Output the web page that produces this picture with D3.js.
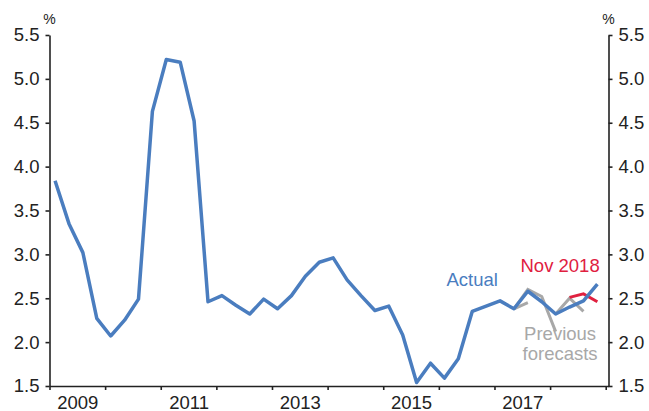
<!DOCTYPE html>
<meta charset="utf-8">
<script src="https://cdn.jsdelivr.net/npm/d3@7"></script>
<style>
body { margin: 0; background: #fff; }
text { font-family: "Liberation Sans", Arial, sans-serif; }
.axis path, .axis line { stroke: #222; stroke-width: 1.6px; }
.axis text { fill: #222; font-size: 18.5px; }
</style>
<body>
<script>

// quarterly series, first quarter 2009:Q1
var startYear = 2009;
var actual = [3.84, 3.35, 3.02, 2.27, 2.07, 2.25, 2.49, 4.63, 5.22, 5.19,
              4.52, 2.46, 2.53, 2.42, 2.32, 2.49, 2.38, 2.53, 2.75, 2.91,
              2.96, 2.71, 2.53, 2.36, 2.41, 2.08, 1.54, 1.76, 1.59, 1.81,
              2.35, 2.41, 2.47, 2.38, 2.58, 2.46, 2.32, 2.40, 2.47, 2.66];

// previous forecasts: [quarter index, value]
var prevForecasts = [
  [[33, 2.38], [34, 2.45]],
  [[33, 2.38], [34, 2.60], [35, 2.52], [36, 2.12]],
  [[36, 2.32], [37, 2.50], [38, 2.35]]
];
var novForecast = [[37, 2.51], [38, 2.55], [39, 2.46]];

var yTicks = [1.5, 2.0, 2.5, 3.0, 3.5, 4.0, 4.5, 5.0, 5.5];
var yearTicks = d3.range(2009, 2020);
var yearLabels = [2009, 2011, 2013, 2015, 2017];

var width = 649, height = 411;
var plotLeft = 49.5, plotRight = 608.5, plotTop = 35, plotBottom = 386;

var svg = d3.select("body").append("svg")
    .attr("width", width)
    .attr("height", height);

var x = d3.scaleLinear().domain([2009, 2019.05]).range([plotLeft, plotRight]);
var y = d3.scaleLinear().domain([1.5, 5.5]).range([plotBottom, plotTop]);

function qTime(i) { return startYear + 0.1 + i * 0.25; }

var line = d3.line()
    .x(function(d) { return x(qTime(d[0])); })
    .y(function(d) { return y(d[1]); });

// axes
svg.append("g").attr("class", "axis")
    .attr("transform", "translate(" + plotLeft + ",0)")
    .call(d3.axisLeft(y).tickValues(yTicks).tickFormat(d3.format(".1f"))
      .tickSize(4).tickSizeOuter(0).tickPadding(6));

svg.append("g").attr("class", "axis")
    .attr("transform", "translate(" + plotRight + ",0)")
    .call(d3.axisRight(y).tickValues(yTicks).tickFormat(d3.format(".1f"))
      .tickSize(4).tickSizeOuter(0).tickPadding(6));

svg.append("g").attr("class", "axis")
    .attr("transform", "translate(0," + plotBottom + ")")
    .call(d3.axisBottom(x).tickValues(yearTicks).tickFormat("")
      .tickSize(4).tickSizeOuter(0));

var xl = svg.append("g").attr("class", "axis")
    .attr("transform", "translate(0," + plotBottom + ")")
    .call(d3.axisBottom(x).tickValues(yearLabels.map(function(d) { return d + 0.5; }))
      .tickFormat(function(d) { return Math.floor(d); })
      .tickSize(0).tickPadding(10));
xl.select(".domain").remove();

// % units
[plotLeft, plotRight].forEach(function(px) {
  svg.append("text")
      .attr("x", px).attr("y", 24)
      .attr("text-anchor", "middle")
      .style("font-size", "14px")
      .style("fill", "#222")
      .text("%");
});

// lines
svg.append("g").selectAll("path")
    .data(prevForecasts)
    .enter().append("path")
    .attr("d", line)
    .style("fill", "none")
    .style("stroke", "#a8a8a8")
    .style("stroke-width", 3);

svg.append("path")
    .datum(novForecast)
    .attr("d", line)
    .style("fill", "none")
    .style("stroke", "#e0203f")
    .style("stroke-width", 3);

svg.append("path")
    .datum(actual.map(function(v, i) { return [i, v]; }))
    .attr("d", line)
    .style("fill", "none")
    .style("stroke", "#4a7dbf")
    .style("stroke-width", 3.5)
    .style("stroke-linejoin", "round");

// labels
var labels = [
  {t: "Actual", yr: 2016.6, v: 2.64, c: "#4a7dbf"},
  {t: "Nov 2018", yr: 2018.18, v: 2.80, c: "#e0203f"},
  {t: "Previous", yr: 2018.18, v: 2.02, c: "#a8a8a8"},
  {t: "forecasts", yr: 2018.18, v: 1.80, c: "#a8a8a8"}
];
svg.append("g").selectAll("text")
    .data(labels)
    .enter().append("text")
    .attr("x", function(d) { return x(d.yr); })
    .attr("y", function(d) { return y(d.v); })
    .attr("text-anchor", "middle")
    .style("font-size", "18.5px")
    .style("fill", function(d) { return d.c; })
    .text(function(d) { return d.t; });

</script>
</body>
